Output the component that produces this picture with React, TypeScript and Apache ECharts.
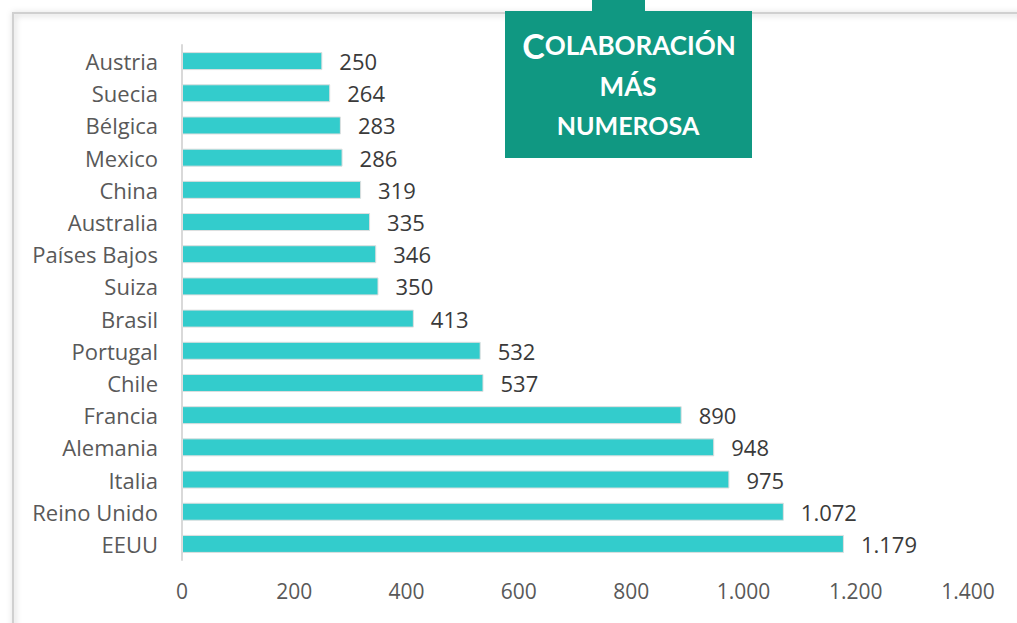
import React, { useEffect, useRef } from "react";
import * as echarts from "echarts";

const categories = ["Austria", "Suecia", "Bélgica", "Mexico", "China", "Australia", "Países Bajos", "Suiza", "Brasil", "Portugal", "Chile", "Francia", "Alemania", "Italia", "Reino Unido", "EEUU"];
const values = [250, 264, 283, 286, 319, 335, 346, 350, 413, 532, 537, 890, 948, 975, 1072, 1179];
const xTicks = [0, 200, 400, 600, 800, 1000, 1200, 1400];

const fmt = (v: number) => String(Math.round(v)).replace(/\B(?=(\d{3})+(?!\d))/g, ".");

export default function App() {
  const ref = useRef<HTMLDivElement>(null);
  useEffect(() => {
    const chart = echarts.init(ref.current!, null, { renderer: "svg" });
    const font = "'Open Sans', Lato, sans-serif";
    const tfont = "Lato, sans-serif";
    chart.setOption({
      animation: false,
      backgroundColor: "#ffffff",
      grid: { left: 182, right: 49, top: 45, bottom: 63, containLabel: false },
      xAxis: {
        type: "value",
        min: xTicks[0],
        max: xTicks[xTicks.length - 1],
        interval: 200,
        axisLine: { show: false },
        axisTick: { show: false },
        splitLine: { show: false },
        axisLabel: { color: "#595959", fontSize: 21, fontFamily: font, margin: 20, formatter: (v: number) => fmt(v) },
      },
      yAxis: {
        type: "category",
        data: categories,
        inverse: true,
        axisLine: { show: true, lineStyle: { color: "#d9d9d9", width: 2 } },
        axisTick: { show: false },
        axisLabel: { color: "#595959", fontSize: 22, fontFamily: font, margin: 24 },
      },
      series: [
        {
          type: "bar",
          data: values,
          barWidth: 18,
          itemStyle: { color: "#33CCCC", borderColor: "#dedede", borderWidth: 1 },
          label: {
            show: true,
            position: "right",
            distance: 17,
            color: "#3a3a3a",
            fontSize: 22,
            fontFamily: font,
            formatter: (p: any) => fmt(p.value),
          },
        },
      ],
      graphic: [
        {
          type: "rect",
          z: -1,
          shape: { x: 13, y: 13, width: 1010, height: 620 },
          style: { fill: "none", stroke: "#d0d0d0", lineWidth: 2, shadowBlur: 6, shadowColor: "rgba(0,0,0,0.25)", shadowOffsetX: 1, shadowOffsetY: 1 },
        },
        { type: "rect", shape: { x: 592, y: 0, width: 53, height: 12 }, style: { fill: "#109882" } },
        { type: "rect", shape: { x: 505, y: 11, width: 247, height: 147 }, style: { fill: "#109882" } },
        {
          type: "text",
          x: 629,
          y: 45,
          style: {
            text: "{a|C}{b|OLABORACIÓN}",
            align: "center",
            verticalAlign: "middle",
            rich: {
              a: { fontSize: 34, fontWeight: "bold", fill: "#ffffff", fontFamily: tfont },
              b: { fontSize: 26, fontWeight: "bold", fill: "#ffffff", fontFamily: tfont },
            },
          },
        },
        {
          type: "text",
          x: 628,
          y: 86,
          style: { text: "MÁS", align: "center", verticalAlign: "middle", fontSize: 26, fontWeight: "bold", fill: "#ffffff", fontFamily: tfont },
        },
        {
          type: "text",
          x: 628,
          y: 125,
          style: { text: "NUMEROSA", align: "center", verticalAlign: "middle", fontSize: 25, fontWeight: "bold", fill: "#ffffff", fontFamily: tfont },
        },
      ],
    });
    return () => chart.dispose();
  }, []);
  return <div ref={ref} style={{ width: 1017, height: 623, position: "absolute", left: 0, top: 0 }} />;
}
